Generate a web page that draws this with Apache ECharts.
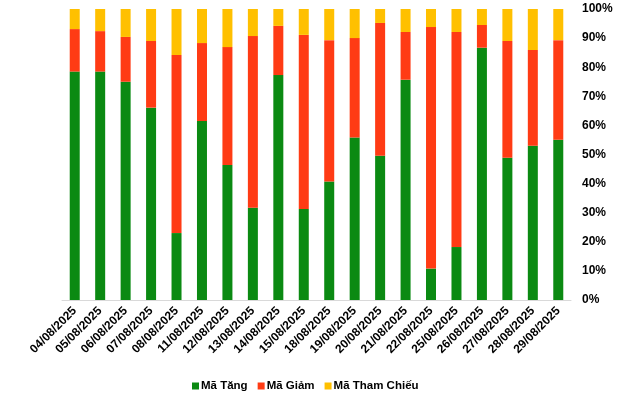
<!DOCTYPE html>
<html>
<head>
<meta charset="utf-8">
<script src="https://cdn.jsdelivr.net/npm/echarts@6/dist/echarts.min.js"></script>
<style>html,body{margin:0;padding:0;background:#fff}#c{width:640px;height:393px}</style>
</head>
<body>
<div id="c"></div>
<script>
var categories = ["04/08/2025","05/08/2025","06/08/2025","07/08/2025","08/08/2025","11/08/2025","12/08/2025","13/08/2025","14/08/2025","15/08/2025","18/08/2025","19/08/2025","20/08/2025","21/08/2025","22/08/2025","25/08/2025","26/08/2025","27/08/2025","28/08/2025","29/08/2025"];
var maTang = [78.5,78.5,75.0,66.1,23.0,61.5,46.4,31.7,77.3,31.3,40.7,55.8,49.6,75.7,10.8,18.2,86.7,48.9,53.0,55.1];
var maGiam = [14.6,13.9,15.4,22.9,61.2,26.8,40.5,59.0,16.9,59.8,48.6,34.2,45.6,16.4,83.0,73.9,7.8,40.1,32.9,34.2];
var maThamChieu = [6.9,7.6,9.6,11.0,15.8,11.7,13.1,9.3,5.8,8.9,10.7,10.0,4.8,7.9,6.2,7.9,5.5,11.0,14.1,10.7];
var seriesNames = ["Mã Tăng","Mã Giảm","Mã Tham Chiếu"];
var colors = ["#0B8A12","#FF3B14","#FFC000"];

var chart = echarts.init(document.getElementById('c'), null, {renderer:'canvas'});
var font = 'Liberation Sans, Arial, sans-serif';
function mk(name, data, color){
  return {name:name, type:'bar', stack:'total', data:data, barWidth:10,
    itemStyle:{color:color}, emphasis:{disabled:true}};
}
chart.setOption({
  animation:false,
  color: colors,
  grid:{left:62, right:69, top:9, bottom:93, containLabel:false},
  legend:{
    data: seriesNames, left:187, top:375, itemWidth:7, itemHeight:7, itemGap:10,
    icon:'rect',
    textStyle:{fontFamily:font, fontWeight:'bold', fontSize:11.5, color:'#000', padding:[0,0,0,-3]}
  },
  xAxis:{
    type:'category', data:categories,
    axisLine:{lineStyle:{color:'#d9d9d9', width:1}},
    axisTick:{show:false},
    axisLabel:{rotate:45, interval:0, fontFamily:font, fontWeight:'bold', fontSize:12, color:'#000', margin:9}
  },
  yAxis:{
    type:'value', position:'right', min:0, max:100, interval:10,
    axisLine:{show:false}, axisTick:{show:false}, splitLine:{show:false},
    axisLabel:{formatter:'{value}%', fontFamily:font, fontWeight:'bold', fontSize:12, color:'#000', margin:11}
  },
  series:[mk(seriesNames[0], maTang, colors[0]), mk(seriesNames[1], maGiam, colors[1]), mk(seriesNames[2], maThamChieu, colors[2])]
});
</script>
</body>
</html>
